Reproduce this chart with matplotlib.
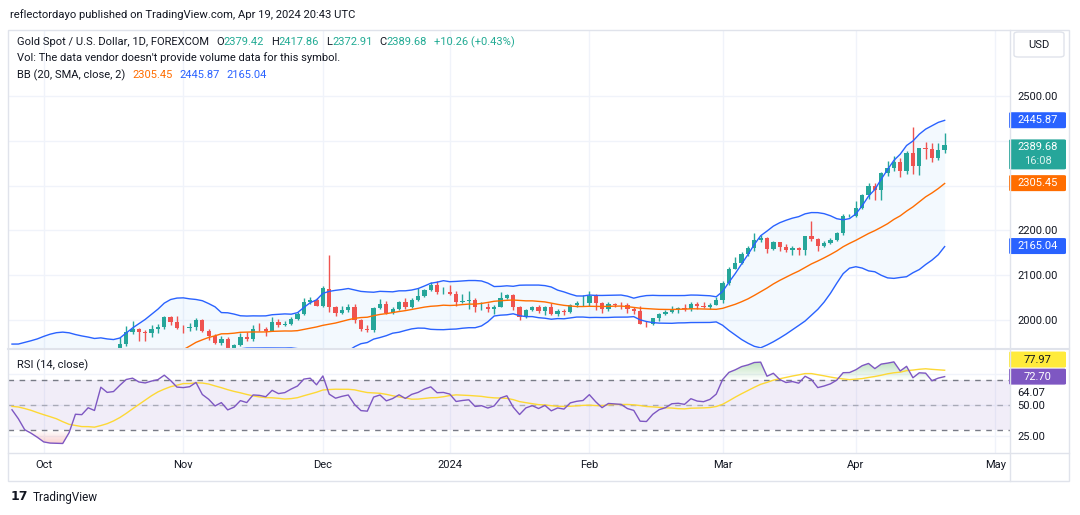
"""TradingView-style snapshot: XAUUSD daily candles, BB(20, 2) and RSI(14)."""

import matplotlib
matplotlib.use("Agg")
import matplotlib.pyplot as plt
import numpy as np
import pandas as pd
from matplotlib.lines import Line2D
from matplotlib.patches import FancyBboxPatch, Rectangle
from matplotlib.path import Path

W, H = 1080, 515
plt.rcParams["font.family"] = ["Roboto", "DejaVu Sans"]

TEXT = "#131722"
GRID = "#f0f3fa"
BORDER = "#e0e3eb"
UP = "#26a69a"
DOWN = "#ef5350"
TEAL = "#22ab94"
BB_BLUE = "#2962ff"
BB_ORANGE = "#ff6d00"
RSI_PURPLE = "#7e57c2"
RSI_YELLOW = "#fdd835"

# ---- data ----
# closes before the first visible bar (Jul 3 - Sep 22 2023), they only feed BB / RSI
warmup_close = [
    1921, 1925, 1915, 1911, 1925, 1925, 1932, 1957, 1961, 1955, 1955, 1979, 1976, 1969,
    1962, 1955, 1965, 1971, 1945, 1959, 1965,
    1944, 1934, 1933, 1942, 1936, 1925, 1915, 1913, 1913, 1907, 1902, 1892, 1889, 1889,
    1895, 1899, 1915, 1917, 1914, 1920, 1937, 1942, 1940,
    1940, 1939, 1926, 1916, 1919, 1919, 1922, 1913, 1908, 1910, 1924, 1934, 1931, 1930,
    1920, 1925,
]

# daily bars Sep 25 2023 - Apr 19 2024 (one line per month)
bar_open = [
    1925, 1916, 1901, 1875, 1864,
    1849, 1828, 1822, 1821, 1820, 1833, 1862, 1861, 1874, 1868, 1932, 1920, 1923, 1947, 1974, 1981, 1973, 1971, 1979, 1985, 2006, 1996,
    1983, 1982, 1985, 2000, 1976, 1965, 1948, 1957, 1937, 1944, 1962, 1957, 1980, 1979, 1976, 1996, 1989, 1992, 2003, 2013, 2040, 2044,
    2032, 2070, 2028, 2016, 2023, 2028, 2000, 1979, 1977, 2026, 2035, 2016, 2025, 2040, 2029, 2045, 2053, 2067, 2077, 2062,
    2063, 2059, 2040, 2043, 2045, 2028, 2030, 2024, 2029, 2049, 2055, 2028, 2006, 2023, 2029, 2021, 2029, 2014, 2021, 2018, 2033, 2037,
    2039, 2054, 2039, 2025, 2035, 2034, 2033, 2024, 2020, 1992, 1991, 2004, 2013, 2017, 2025, 2026, 2024, 2035, 2031, 2030, 2034,
    2044, 2083, 2114, 2128, 2148, 2160, 2179, 2182, 2158, 2174, 2162, 2156, 2160, 2157, 2187, 2181, 2165, 2171, 2179, 2194, 2232,
    2233, 2250, 2280, 2300, 2290, 2329, 2339, 2352, 2333, 2373, 2344, 2383, 2382, 2361, 2379.42,
]
bar_high = [
    1927, 1917, 1904, 1879, 1880,
    1850, 1834, 1829, 1828, 1834, 1865, 1867, 1877, 1885, 1933, 1937, 1936, 1962, 1987, 1997, 1983, 1978, 1988, 1990, 2009, 2009, 2008,
    1988, 1993, 2004, 2003, 1980, 1968, 1965, 1962, 1947, 1971, 1973, 1988, 1993, 1984, 2007, 2003, 1997, 2007, 2018, 2048, 2052, 2048,
    2075, 2146, 2031, 2032, 2035, 2035, 2003, 1988, 2030, 2047, 2043, 2029, 2043, 2048, 2049, 2071, 2070, 2084, 2088, 2074,
    2079, 2064, 2058, 2064, 2049, 2041, 2038, 2033, 2062, 2059, 2058, 2031, 2025, 2031, 2033, 2032, 2037, 2025, 2025, 2036, 2043, 2055,
    2065, 2057, 2041, 2040, 2039, 2041, 2038, 2029, 2032, 1998, 2005, 2016, 2022, 2031, 2030, 2035, 2041, 2040, 2040, 2038, 2052,
    2088, 2119, 2141, 2152, 2165, 2195, 2189, 2185, 2176, 2175, 2170, 2165, 2163, 2188, 2222, 2184, 2176, 2183, 2197, 2236, 2236,
    2266, 2281, 2305, 2305, 2331, 2354, 2365, 2362, 2377, 2431, 2384, 2397, 2395, 2394, 2417.86,
]
bar_low = [
    1913, 1896, 1871, 1858, 1846,
    1827, 1816, 1816, 1816, 1810, 1832, 1853, 1859, 1867, 1867, 1913, 1908, 1917, 1943, 1968, 1953, 1953, 1963, 1970, 1980, 1989, 1981,
    1970, 1976, 1978, 1974, 1955, 1946, 1945, 1932, 1931, 1941, 1954, 1954, 1975, 1965, 1975, 1985, 1987, 1989, 2001, 2012, 2035, 2031,
    2029, 2018, 2009, 2014, 2017, 1994, 1975, 1973, 1973, 2024, 2013, 2014, 2023, 2024, 2027, 2042, 2051, 2064, 2057, 2058,
    2056, 2031, 2037, 2024, 2017, 2022, 2017, 2013, 2028, 2047, 2023, 2001, 2004, 2021, 2015, 2011, 2012, 2009, 2011, 2016, 2030, 2032,
    2032, 2023, 2015, 2020, 2030, 2025, 2015, 2013, 1990, 1984, 1988, 1998, 2012, 2016, 2016, 2019, 2021, 2025, 2026, 2024, 2033,
    2038, 2079, 2114, 2124, 2142, 2155, 2175, 2150, 2156, 2155, 2152, 2145, 2146, 2146, 2176, 2155, 2163, 2169, 2176, 2190, 2229,
    2230, 2248, 2269, 2268, 2267, 2322, 2332, 2319, 2325, 2326, 2324, 2359, 2353, 2356, 2372.91,
]
bar_close = [
    1916, 1901, 1875, 1864, 1849,
    1828, 1822, 1821, 1820, 1833, 1862, 1861, 1874, 1868, 1932, 1920, 1923, 1947, 1974, 1981, 1973, 1971, 1979, 1985, 2006, 1996, 1983,
    1982, 1985, 2000, 1976, 1965, 1948, 1957, 1937, 1944, 1962, 1957, 1980, 1979, 1976, 1996, 1989, 1992, 2003, 2013, 2040, 2044, 2032,
    2072, 2028, 2016, 2023, 2028, 2000, 1979, 1977, 2026, 2035, 2016, 2025, 2040, 2029, 2045, 2053, 2067, 2077, 2062, 2063,
    2059, 2040, 2043, 2045, 2028, 2030, 2024, 2029, 2049, 2055, 2028, 2006, 2023, 2029, 2021, 2029, 2014, 2021, 2018, 2033, 2037, 2039,
    2054, 2039, 2025, 2035, 2034, 2033, 2024, 2020, 1992, 1991, 2004, 2013, 2017, 2025, 2026, 2024, 2035, 2031, 2030, 2034, 2044,
    2083, 2114, 2128, 2148, 2160, 2179, 2182, 2158, 2174, 2162, 2156, 2160, 2157, 2187, 2181, 2165, 2171, 2179, 2194, 2232, 2233,
    2250, 2280, 2300, 2290, 2329, 2339, 2352, 2333, 2373, 2344, 2383, 2382, 2361, 2379, 2389.68,
]

# last values shown in the legend / on the scales
ohlc_text = ["2379.42", "2417.86", "2372.91", "2389.68"]
change_text = "+10.26 (+0.43%)"
bb_last = [2305.45, 2445.87, 2165.04]     # basis, upper, lower
rsi_last = [72.70, 77.97, 64.07]          # rsi, rsi-ma, extra
countdown = "16:08"
price_ticks = [2000, 2100, 2200, 2300, 2400, 2500]
price_hidden = [2300, 2400]               # covered by the value labels
rsi_ticks = [25, 50, 75]
rsi_hidden = [75]

# ---- derived series ----
dates = pd.bdate_range("2023-09-25", "2024-05-10")
dates = dates[~dates.isin(pd.to_datetime(["2023-12-25", "2024-01-01"]))]

o = np.array(bar_open, dtype=float)
hi = np.array(bar_high, dtype=float)
lo = np.array(bar_low, dtype=float)
c = np.array(bar_close, dtype=float)
n = len(c)
x = np.arange(n)

full = pd.Series(warmup_close + bar_close, dtype=float)
k = len(warmup_close)
basis = full.rolling(20).mean()
dev = full.rolling(20).std(ddof=0)
upper = (basis + 2 * dev).values[k:]
lower = (basis - 2 * dev).values[k:]
basis = basis.values[k:]
delta = full.diff()
gain = delta.clip(lower=0).ewm(alpha=1 / 14, adjust=False).mean()
loss = (-delta.clip(upper=0)).ewm(alpha=1 / 14, adjust=False).mean()
rsi_full = 100 - 100 / (1 + gain / loss)
rsi_ma = rsi_full.rolling(14).mean().values[k:]
rsi = rsi_full.values[k:]

month_pos, month_lab = [], []
seen = set()
for i, d in enumerate(dates):
    key = (d.year, d.month)
    if key in seen:
        continue
    seen.add(key)
    if i == 0:
        continue
    month_pos.append(i)
    month_lab.append(str(d.year) if d.month == 1 else d.strftime("%b"))


def fx(px):
    return px / W


def fy(py):
    return 1 - py / H


fig = plt.figure(figsize=(W / 100, H / 100), dpi=100)
fig.patch.set_facecolor("white")

ax_p = fig.add_axes([fx(8), fy(348), (1010 - 8) / W, (348 - 31) / H])
ax_r = fig.add_axes([fx(8), fy(453), (1010 - 8) / W, (453 - 349) / H], sharex=ax_p)

# ---- price pane ----
ax_p.fill_between(x, lower, upper, color="#2196f3", alpha=0.05, lw=0, zorder=1)
ax_p.plot(x, upper, color=BB_BLUE, lw=1, zorder=4)
ax_p.plot(x, lower, color=BB_BLUE, lw=1, zorder=4)
ax_p.plot(x, basis, color=BB_ORANGE, lw=1, zorder=4)

cols = np.where(c >= o, UP, DOWN)
ax_p.vlines(x, lo, hi, colors=cols, lw=1, zorder=3)
ax_p.bar(x, np.maximum(np.abs(c - o), 0.9), bottom=np.minimum(o, c), width=0.68,
         color=cols, lw=0, zorder=3)

ax_p.set_ylim(1937.5, 2645)
ax_p.set_yticks(price_ticks)
ax_p.set_yticklabels(["" if t in price_hidden else f"{t:.2f}" for t in price_ticks])
ax_p.yaxis.tick_right()
ax_p.tick_params(axis="y", length=0, pad=5, labelsize=8, labelcolor=TEXT)
ax_p.tick_params(axis="x", length=0, labelbottom=False)
ax_p.grid(color=GRID, lw=1)
ax_p.set_axisbelow(True)

# ---- RSI pane ----
ax_r.axhspan(30, 70, color=RSI_PURPLE, alpha=0.1, lw=0, zorder=1)
for lvl, a in ((70, 1.0), (50, 0.55), (30, 1.0)):
    ax_r.axhline(lvl, color="#787b86", lw=1, ls=(0, (4, 4)), alpha=a, zorder=2)


def gradient_fill(ax, level, edge, where, rgb, amax):
    coll = ax.fill_between(x, rsi, level, where=where, interpolate=True,
                           facecolor="none", lw=0)
    paths = coll.get_paths()
    if not paths:
        return
    clip = Path.make_compound_path(*paths)
    img = np.zeros((100, 1, 4))
    img[..., :3] = rgb
    ramp = np.linspace(0, amax, 100)
    img[:, 0, 3] = ramp if edge > level else ramp[::-1]
    lo_, hi_ = min(level, edge), max(level, edge)
    im = ax.imshow(img, extent=[x[0], x[-1], lo_, hi_], origin="lower",
                   aspect="auto", zorder=2, interpolation="bilinear")
    im.set_clip_path(clip, ax.transData)


gradient_fill(ax_r, 70, 88, rsi > 70, (0.30, 0.69, 0.31), 0.45)
gradient_fill(ax_r, 30, 14, rsi < 30, (0.94, 0.33, 0.31), 0.40)

ax_r.plot(x, rsi_ma, color=RSI_YELLOW, lw=1, zorder=3)
ax_r.plot(x, rsi, color=RSI_PURPLE, lw=1, zorder=4)

ax_r.set_ylim(11.6, 94.8)
ax_r.set_yticks(rsi_ticks)
ax_r.set_yticklabels(["" if t in rsi_hidden else f"{t:.2f}" for t in rsi_ticks])
ax_r.yaxis.tick_right()
ax_r.tick_params(axis="y", length=0, pad=5, labelsize=8, labelcolor=TEXT)
ax_r.set_xticks(month_pos)
ax_r.set_xticklabels(month_lab)
ax_r.tick_params(axis="x", length=0, pad=5, labelsize=8, labelcolor=TEXT)
ax_r.grid(color=GRID, lw=1)
ax_r.set_axisbelow(True)
ax_r.set_xlim(-0.63, 157.3)

for ax in (ax_p, ax_r):
    for sp in ax.spines.values():
        sp.set_visible(False)

# ---- frame ----
fig.add_artist(Rectangle((fx(8), fy(481)), (1069 - 8) / W, (481 - 30) / H,
                         transform=fig.transFigure, fc="none", ec=BORDER, lw=1))
fig.add_artist(Line2D([fx(1010)] * 2, [fy(30), fy(481)], color=BORDER, lw=1))
fig.add_artist(Line2D([fx(8), fx(1069)], [fy(453)] * 2, color=BORDER, lw=1))
fig.add_artist(Line2D([fx(8), fx(1069)], [fy(348.5)] * 2, color=BORDER, lw=1.5))

fig.add_artist(FancyBboxPatch((fx(1014), fy(57)), 50 / W, 25 / H,
                              boxstyle="round,pad=0,rounding_size=0.004",
                              transform=fig.transFigure, fc="white", ec=BORDER, lw=1))
fig.text(fx(1039), fy(45), "USD", ha="center", va="center", fontsize=8, color=TEXT)


# ---- scale labels ----
def scale_label(ax, value, text, face, tcolor, dy=0.0, h=16, extra=None):
    ypix = ax.transData.transform((0, value))[1] + dy
    top = ypix + h / 2
    height = h + (14 if extra else 0)
    fig.add_artist(FancyBboxPatch((fx(1009), (top - height) / H), 57 / W, height / H,
                                  boxstyle="round,pad=0,rounding_size=0.002",
                                  transform=fig.transFigure, fc=face, ec="none"))
    fig.text(fx(1037.5), ypix / H, text, ha="center", va="center",
             fontsize=8, color=tcolor)
    if extra:
        fig.text(fx(1037.5), (ypix - 14) / H, extra, ha="center", va="center",
                 fontsize=8, color="#d9f2ee")


scale_label(ax_p, bb_last[1], f"{bb_last[1]:.2f}", BB_BLUE, "white")
scale_label(ax_p, c[-1], f"{c[-1]:.2f}", UP, "white", dy=-2, extra=countdown)
scale_label(ax_p, bb_last[0], f"{bb_last[0]:.2f}", BB_ORANGE, "white")
scale_label(ax_p, bb_last[2], f"{bb_last[2]:.2f}", BB_BLUE, "white")
scale_label(ax_r, rsi_last[1], f"{rsi_last[1]:.2f}", "#ffeb3b", TEXT, dy=10.5)
scale_label(ax_r, rsi_last[0], f"{rsi_last[0]:.2f}", RSI_PURPLE, "white")
y64 = ax_r.transData.transform((0, rsi_last[2]))[1] - 5.5
fig.text(fx(1017), y64 / H, f"{rsi_last[2]:.2f}", ha="left", va="center",
         fontsize=8, color=TEXT)


# ---- legends ----
def colored_line(x0, y0, parts, size=8):
    prev = None
    for s, color, gap in parts:
        if prev is None:
            prev = fig.text(fx(x0), fy(y0), s, color=color, fontsize=size,
                            ha="left", va="center")
        else:
            prev = ax_p.annotate(s, xy=(1, 0.5), xycoords=prev, xytext=(gap, 0),
                                 textcoords="offset points", color=color,
                                 fontsize=size, ha="left", va="center",
                                 annotation_clip=False)


fig.text(fx(10), fy(15), "reflectordayo published on TradingView.com, Apr 19, 2024 20:43 UTC",
         fontsize=8.1, color=TEXT, ha="left", va="center")

colored_line(17, 42, [
    ("Gold Spot / U.S. Dollar, 1D, FOREXCOM", TEXT, 0),
    ("O", TEXT, 5), (ohlc_text[0], TEAL, 0),
    ("H", TEXT, 5), (ohlc_text[1], TEAL, 0),
    ("L", TEXT, 5), (ohlc_text[2], TEAL, 0),
    ("C", TEXT, 5), (ohlc_text[3], TEAL, 0),
    (change_text, TEAL, 5),
])
colored_line(17, 58, [("Vol: The data vendor doesn't provide volume data for this symbol.", TEXT, 0)])
colored_line(17, 75, [
    ("BB (20, SMA, close, 2)", TEXT, 0),
    (f"{bb_last[0]:.2f}", BB_ORANGE, 5),
    (f"{bb_last[1]:.2f}", BB_BLUE, 5),
    (f"{bb_last[2]:.2f}", BB_BLUE, 5),
])
colored_line(17, 365, [
    ("RSI (14, close)", TEXT, 0),
    (f"{rsi_last[0]:.2f}", RSI_PURPLE, 5),
    (f"{rsi_last[1]:.2f}", "#f2cf1d", 5),
] + [("\u00d8", TEXT, 5)] * 6)

# ---- footer ----
fig.text(fx(11), fy(497), "17", fontsize=9, fontweight="bold", color=TEXT,
         family="DejaVu Sans", ha="left", va="center")
fig.text(fx(33), fy(497), "TradingView", fontsize=8.5, color=TEXT, ha="left", va="center")

fig.savefig("out.png", dpi=100)
